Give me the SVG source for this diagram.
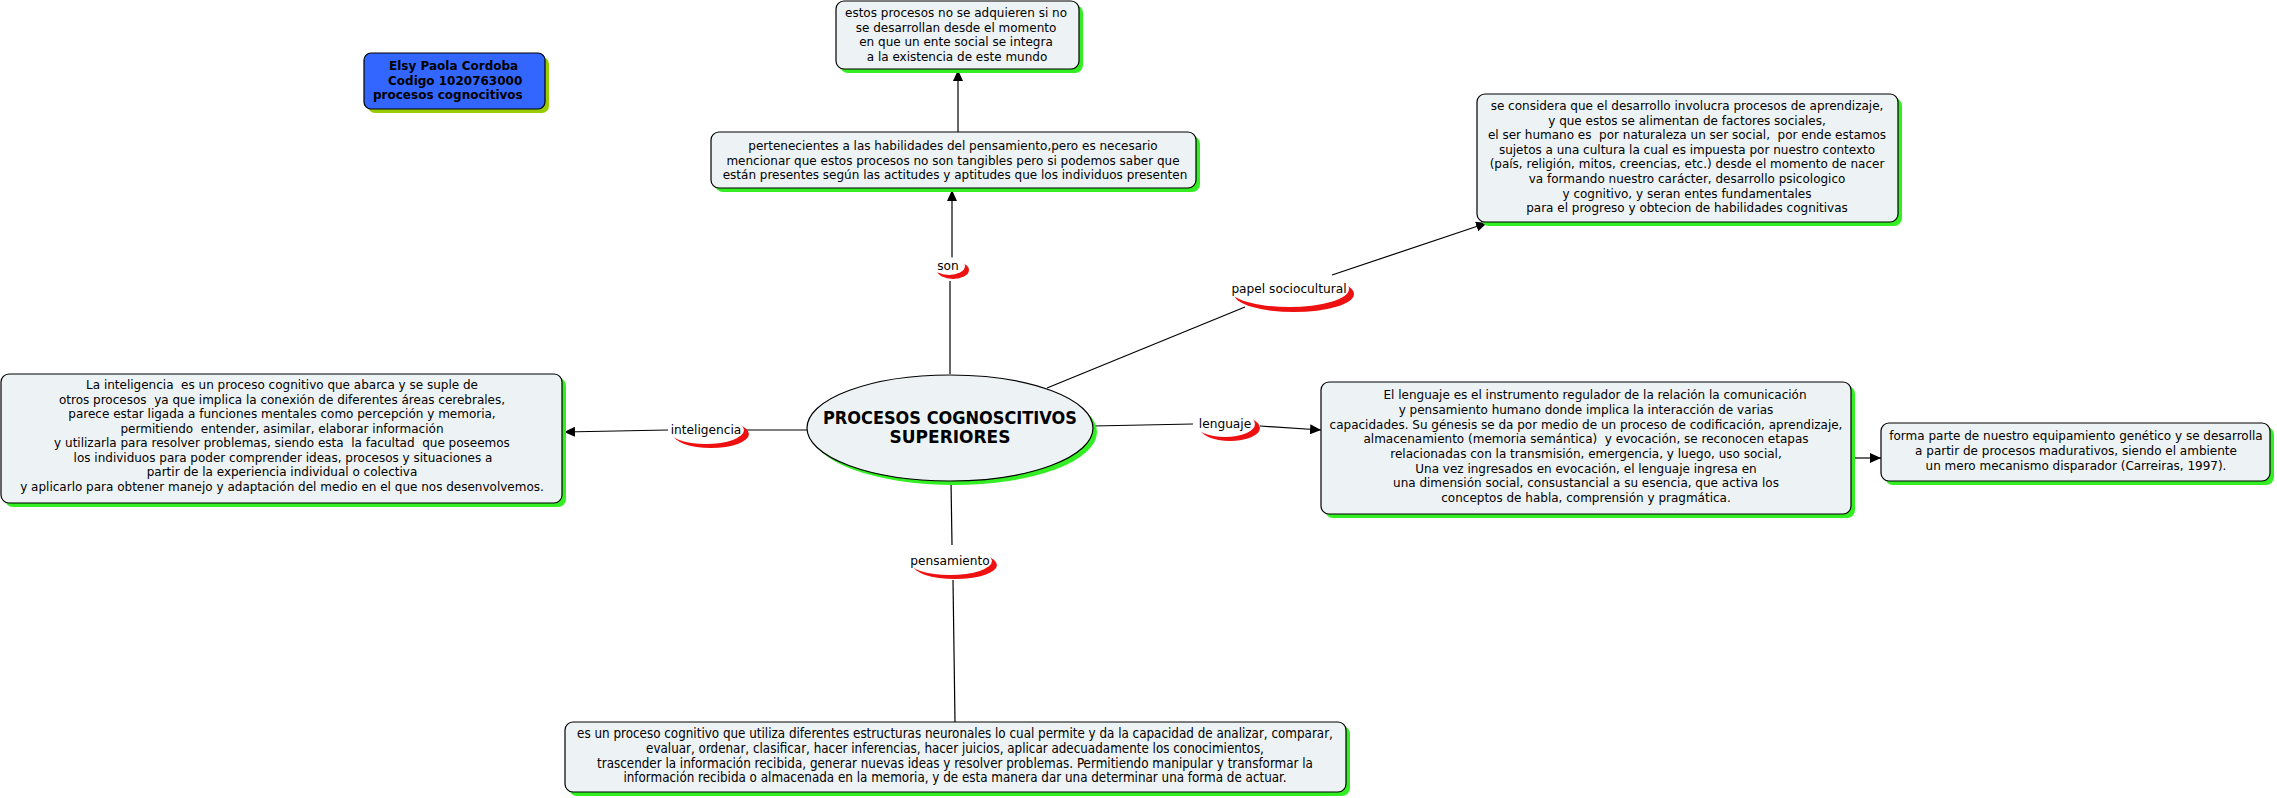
<svg xmlns="http://www.w3.org/2000/svg" width="2277" height="798" viewBox="0 0 2277 798">
<style>
.box{fill:#edf3f5;stroke:#000;stroke-width:1.2}
.sh{fill:#33ee22}
text{white-space:pre}
.t{font-family:"DejaVu Sans","Liberation Sans",sans-serif;font-size:12px;fill:#000;text-anchor:middle}
.tc{font-family:"DejaVu Sans Condensed","DejaVu Sans","Liberation Sans",sans-serif;font-size:13.3px;fill:#000;text-anchor:middle}
.tb{font-family:"DejaVu Sans","Liberation Sans",sans-serif;font-size:12px;font-weight:bold;fill:#000}
.big{font-family:"DejaVu Sans","Liberation Sans",sans-serif;font-size:17px;font-weight:bold;fill:#000;text-anchor:middle}
.lab{font-family:"DejaVu Sans","Liberation Sans",sans-serif;font-size:12.2px;fill:#000;text-anchor:middle}
.red{fill:#ee1111}
.wh{fill:#fff}
.ln{stroke:#000;stroke-width:1.2;fill:none}
.arr{stroke:#000;stroke-width:1.2;fill:none;marker-end:url(#ah)}
</style>
<defs>
<marker id="ah" markerUnits="userSpaceOnUse" markerWidth="11" markerHeight="10" refX="11" refY="5" orient="auto">
<path d="M0,0 L11,5 L0,10 z" fill="#000"/>
</marker>
</defs>
<rect width="2277" height="798" fill="#fff"/>

<g id="connectors">
<line class="ln" x1="950" y1="374" x2="950" y2="281"/>
<line class="arr" x1="952" y1="258" x2="952" y2="190"/>
<line class="arr" x1="958" y1="132" x2="958" y2="70"/>
<line class="ln" x1="1047" y1="388" x2="1245" y2="307"/>
<line class="arr" x1="1332" y1="275" x2="1487" y2="223"/>
<line class="ln" x1="1093" y1="426" x2="1193" y2="424"/>
<line class="arr" x1="1260" y1="426" x2="1321" y2="430"/>
<line class="ln" x1="807" y1="430" x2="745" y2="430"/>
<line class="arr" x1="668" y1="430" x2="564" y2="432"/>
<line class="arr" x1="1851" y1="458" x2="1881" y2="458"/>
<line class="ln" x1="951" y1="481" x2="952" y2="545"/>
<line class="ln" x1="953" y1="580" x2="955" y2="722"/>
</g>

<g id="title">
<rect x="368" y="57" width="181" height="56" rx="7" fill="#99cc00"/>
<rect x="364" y="53" width="181" height="56" rx="7" fill="#3366ff" stroke="#000" stroke-width="1.2"/>
<text class="tb" x="389" y="70">Elsy Paola Cordoba</text>
<text class="tb" x="388" y="85">Codigo 1020763000</text>
<text class="tb" x="373" y="99">procesos cognocitivos</text>
</g>

<g id="top">
<rect class="sh" x="840" y="5" width="243" height="68" rx="8"/>
<rect class="box" x="836" y="1" width="243" height="68" rx="8"/>
<text class="t" x="956" y="17">estos procesos no se adquieren si no</text>
<text class="t" x="956" y="32">se desarrollan desde el momento</text>
<text class="t" x="956" y="46">en que un ente social se integra</text>
<text class="t" x="957" y="61">a la existencia de este mundo</text>
</g>

<g id="pertenecientes">
<rect class="sh" x="715" y="136" width="485" height="56" rx="8"/>
<rect class="box" x="711" y="132" width="485" height="56" rx="8"/>
<text class="t" x="953" y="150">pertenecientes a las habilidades del pensamiento,pero es necesario</text>
<text class="t" x="953" y="165">mencionar que estos procesos no son tangibles pero si podemos saber que</text>
<text class="t" x="955" y="179">están presentes según las actitudes y aptitudes que los individuos presenten</text>
</g>

<g id="sociocultural">
<rect class="sh" x="1481" y="98" width="421" height="128" rx="8"/>
<rect class="box" x="1477" y="94" width="421" height="128" rx="8"/>
<text class="t" x="1687" y="110">se considera que el desarrollo involucra procesos de aprendizaje,</text>
<text class="t" x="1687" y="125">y que estos se alimentan de factores sociales,</text>
<text class="t" x="1687" y="139">el ser humano es  por naturaleza un ser social,  por ende estamos</text>
<text class="t" x="1687" y="154">sujetos a una cultura la cual es impuesta por nuestro contexto</text>
<text class="t" x="1687" y="168">(país, religión, mitos, creencias, etc.) desde el momento de nacer</text>
<text class="t" x="1687" y="183">va formando nuestro carácter, desarrollo psicologico</text>
<text class="t" x="1687" y="198">y cognitivo, y seran entes fundamentales</text>
<text class="t" x="1687" y="212">para el progreso y obtecion de habilidades cognitivas</text>
</g>

<g id="inteligencia-box">
<rect class="sh" x="5" y="378" width="561" height="129" rx="8"/>
<rect class="box" x="1" y="374" width="561" height="129" rx="8"/>
<text class="t" x="282" y="389">La inteligencia  es un proceso cognitivo que abarca y se suple de</text>
<text class="t" x="282" y="404">otros procesos  ya que implica la conexión de diferentes áreas cerebrales,</text>
<text class="t" x="282" y="418">parece estar ligada a funciones mentales como percepción y memoria,</text>
<text class="t" x="282" y="433">permitiendo  entender, asimilar, elaborar información</text>
<text class="t" x="282" y="447">y utilizarla para resolver problemas, siendo esta  la facultad  que poseemos</text>
<text class="t" x="283" y="462">los individuos para poder comprender ideas, procesos y situaciones a</text>
<text class="t" x="282" y="476">partir de la experiencia individual o colectiva</text>
<text class="t" x="282" y="491">y aplicarlo para obtener manejo y adaptación del medio en el que nos desenvolvemos.</text>
</g>

<g id="lenguaje-box">
<rect class="sh" x="1325" y="386" width="530" height="132" rx="8"/>
<rect class="box" x="1321" y="382" width="530" height="132" rx="8"/>
<text class="t" x="1595" y="399">El lenguaje es el instrumento regulador de la relación la comunicación</text>
<text class="t" x="1586" y="414">y pensamiento humano donde implica la interacción de varias</text>
<text class="t" x="1586" y="429">capacidades. Su génesis se da por medio de un proceso de codificación, aprendizaje,</text>
<text class="t" x="1586" y="443">almacenamiento (memoria semántica)  y evocación, se reconocen etapas</text>
<text class="t" x="1586" y="458">relacionadas con la transmisión, emergencia, y luego, uso social,</text>
<text class="t" x="1586" y="473">Una vez ingresados en evocación, el lenguaje ingresa en</text>
<text class="t" x="1586" y="487">una dimensión social, consustancial a su esencia, que activa los</text>
<text class="t" x="1586" y="502">conceptos de habla, comprensión y pragmática.</text>
</g>

<g id="genetico">
<rect class="sh" x="1885" y="427" width="389" height="58" rx="8"/>
<rect class="box" x="1881" y="423" width="389" height="58" rx="8"/>
<text class="t" x="2076" y="440">forma parte de nuestro equipamiento genético y se desarrolla</text>
<text class="t" x="2076" y="455">a partir de procesos madurativos, siendo el ambiente</text>
<text class="t" x="2076" y="470">un mero mecanismo disparador (Carreiras, 1997).</text>
</g>

<g id="pensamiento-box">
<rect class="sh" x="569" y="726" width="781" height="70" rx="8"/>
<rect class="box" x="565" y="722" width="781" height="70" rx="8"/>
<text class="tc" x="955" y="738">es un proceso cognitivo que utiliza diferentes estructuras neuronales lo cual permite y da la capacidad de analizar, comparar,</text>
<text class="tc" x="955" y="753">evaluar, ordenar, clasificar, hacer inferencias, hacer juicios, aplicar adecuadamente los conocimientos,</text>
<text class="tc" x="955" y="768">trascender la información recibida, generar nuevas ideas y resolver problemas. Permitiendo manipular y transformar la</text>
<text class="tc" x="955" y="782">información recibida o almacenada en la memoria, y de esta manera dar una determinar una forma de actuar.</text>
</g>

<g id="center">
<ellipse cx="954" cy="432" rx="143" ry="53" fill="#33ee22"/>
<ellipse cx="950" cy="428" rx="143" ry="53" fill="#edf3f5" stroke="#000" stroke-width="1.2"/>
<text class="big" x="950" y="424" textLength="254" lengthAdjust="spacingAndGlyphs">PROCESOS COGNOSCITIVOS</text>
<text class="big" x="950" y="443">SUPERIORES</text>
</g>

<g id="label-son">
<ellipse class="red" cx="953" cy="270" rx="16" ry="9"/>
<ellipse class="wh" cx="949" cy="266" rx="16" ry="9"/>
<text class="lab" x="948" y="270">son</text>
</g>

<g id="label-sociocultural">
<ellipse class="red" cx="1294" cy="294" rx="60" ry="18"/>
<ellipse class="wh" cx="1289" cy="289" rx="60" ry="18"/>
<text class="lab" x="1289" y="293">papel sociocultural</text>
</g>

<g id="label-lenguaje">
<ellipse class="red" cx="1230" cy="428" rx="30" ry="13"/>
<ellipse class="wh" cx="1225" cy="424" rx="30" ry="13"/>
<text class="lab" x="1225" y="428">lenguaje</text>
</g>

<g id="label-inteligencia">
<ellipse class="red" cx="711" cy="434" rx="38" ry="14"/>
<ellipse class="wh" cx="706" cy="430" rx="38" ry="14"/>
<text class="lab" x="706" y="434">inteligencia</text>
</g>

<g id="label-pensamiento">
<ellipse class="red" cx="955" cy="565" rx="42" ry="14"/>
<ellipse class="wh" cx="950" cy="561" rx="42" ry="14"/>
<text class="lab" x="950" y="565">pensamiento</text>
</g>
</svg>
